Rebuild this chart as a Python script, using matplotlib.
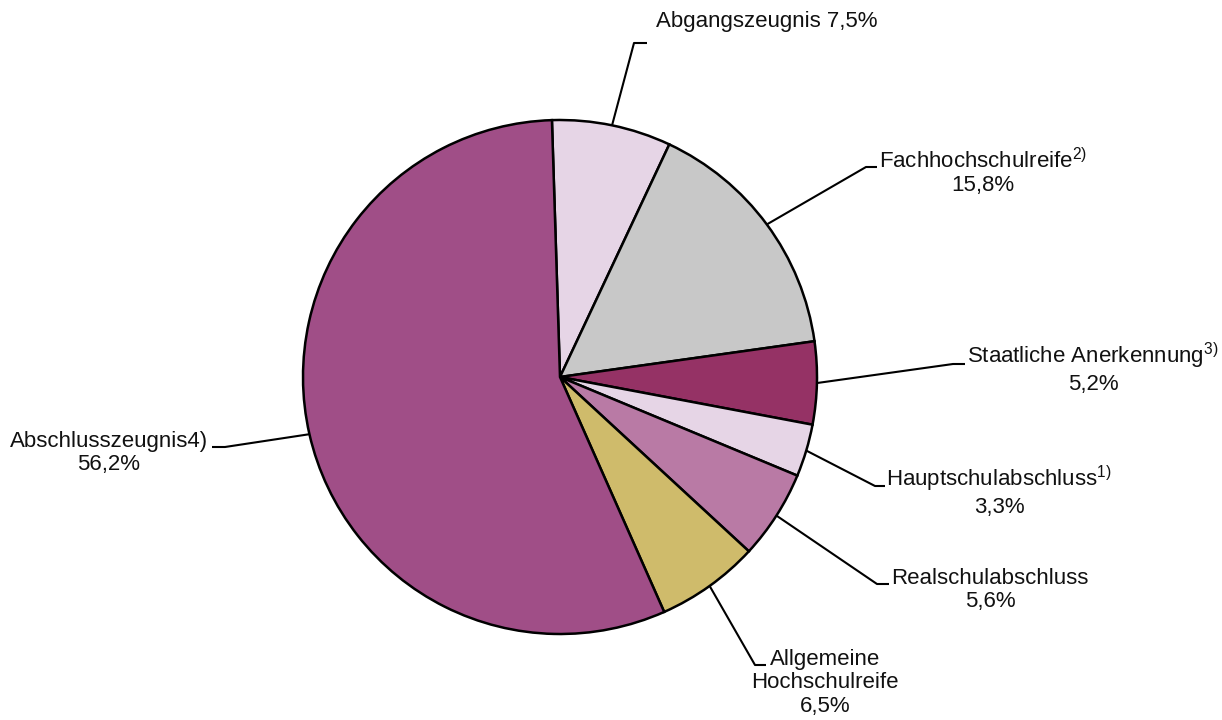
import numpy as np
import matplotlib
matplotlib.use("Agg")
import matplotlib.pyplot as plt

plt.rcParams['font.family'] = ['Liberation Sans', 'DejaVu Sans']
plt.rcParams['mathtext.fontset'] = 'custom'
plt.rcParams['mathtext.rm'] = 'Liberation Sans'
plt.rcParams['mathtext.it'] = 'Liberation Sans'

categories = ["Abgangszeugnis", "Fachhochschulreife", "Staatliche Anerkennung",
              "Hauptschulabschluss", "Realschulabschluss",
              "Allgemeine Hochschulreife", "Abschlusszeugnis"]
values = [7.5, 15.8, 5.2, 3.3, 5.6, 6.5, 56.2]
labels = ["Abgangszeugnis 7,5%",
          "Fachhochschulreife$^{\\mathrm{2)}}$\n15,8%",
          "Staatliche Anerkennung$^{\\mathrm{3)}}$\n5,2%",
          "Hauptschulabschluss$^{\\mathrm{1)}}$\n3,3%",
          "Realschulabschluss\n5,6%",
          "Allgemeine\nHochschulreife\n6,5%",
          "Abschlusszeugnis4)\n56,2%"]
colors = ["#E6D5E6", "#C8C8C8", "#953265", "#E6D5E6", "#B97AA5", "#CFBB6B", "#A04E87"]

W, H = 1222, 720
cx, cy, R = 560, 377, 257

def px(x, y):
    return ((x - cx) / R, (cy - y) / R)

# label layout (pixel positions): elbow end, elbow start, text center
layout = [
    ((647, 43), (634, 43), (767, 22)),
    ((877, 167), (866, 167), (983, 172)),
    ((965, 364), (953, 364), (1093, 368)),
    ((885, 486), (875, 486), (999, 491)),
    ((889, 584), (877, 584), (990, 590)),
    ((766, 665), (755, 665), (825, 683)),
    ((212, 447), (225, 447), (109, 453)),
]

fig = plt.figure(figsize=(W / 100, H / 100), dpi=100)
ax = fig.add_axes([0, 0, 1, 1])
ax.axis('off')

wedges, _ = ax.pie(values, colors=colors, startangle=91.8, counterclock=False,
                   radius=1.0, center=(0, 0),
                   wedgeprops=dict(edgecolor='black', linewidth=1.8))
ax.set_xlim(-cx / R, (W - cx) / R)
ax.set_ylim(-(H - cy) / R, cy / R)
ax.set_aspect('equal')

for w, lab, (e1, e0, tc) in zip(wedges, labels, layout):
    ang = np.deg2rad((w.theta1 + w.theta2) / 2)
    ax_, ay_ = np.cos(ang), np.sin(ang)
    p0 = px(*e0)
    p1 = px(*e1)
    ax.plot([ax_, p0[0], p1[0]], [ay_, p0[1], p1[1]], color='black', lw=1.5,
            solid_capstyle='butt')
    t = px(*tc)
    ax.text(t[0], t[1], lab, ha='center', va='center', multialignment='center',
            fontsize=16, linespacing=1.15, color='#111111')

fig.savefig("out.png", dpi=100)
